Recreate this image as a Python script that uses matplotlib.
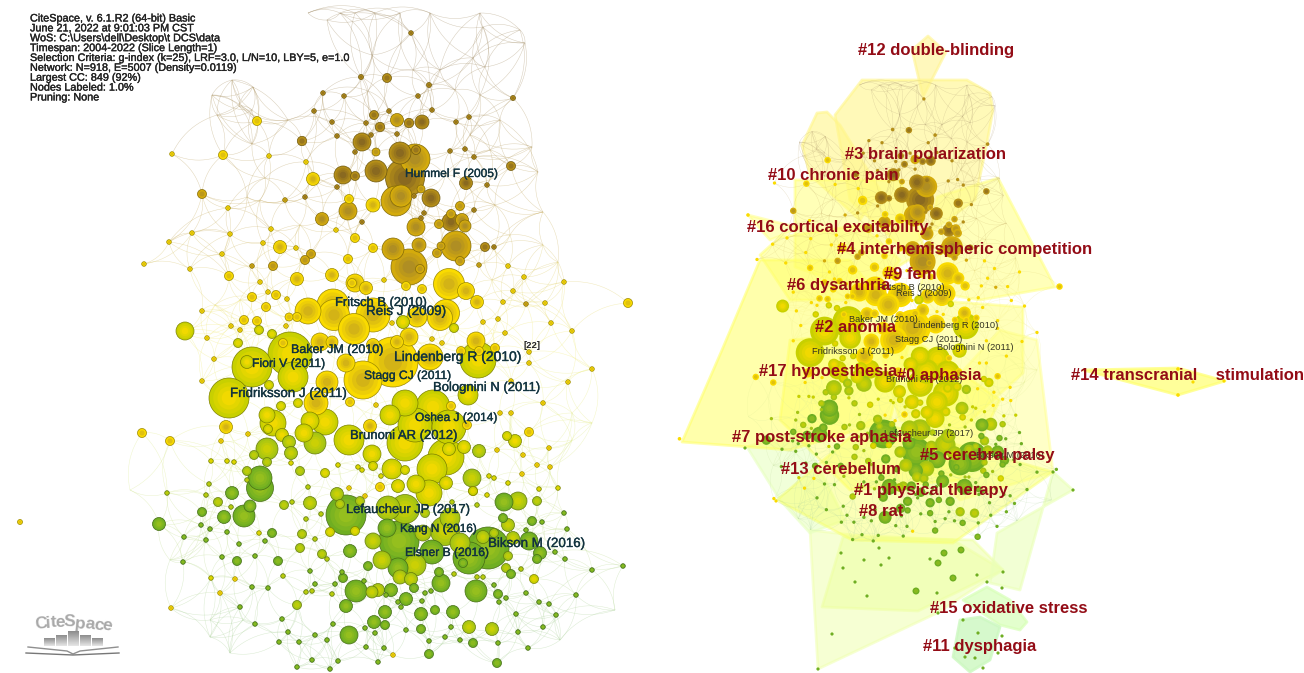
import numpy as np
import matplotlib
matplotlib.use("Agg")
import matplotlib.pyplot as plt
import matplotlib.patheffects as pe
from matplotlib.patches import Circle, Polygon
from matplotlib.collections import PatchCollection, LineCollection

plt.rcParams['font.family'] = ['Liberation Sans', 'DejaVu Sans']

# nodes of the co-citation network: (x, y, radius)
nodes_2005 = [(411,33,2.3),(361,77,2.5),(387,78,4.5),(429,85,2.5),(418,96,2.3),(323,93,2.3),(344,96,2.3),(513,98,2.5),
    (432,110,2.3),(314,111,2.3),(389,111,2.3),(374,115,4.5),(469,117,2.3),(332,122,2.3),(366,123,2.3),(380,127,4.7),
    (409,123,4.7),(422,122,7),(456,122,2.3),(337,136,2.3),(371,135,2.3),(397,134,2.3),(302,141,4.7),(362,142,9),
    (355,152,2.3),(450,151,2.3),(465,149,2.3),(474,157,2.3),(511,166,4.5),(400,153,11),(376,171,11),(343,175,9),
    (405,178,19.5),(466,183,6.5),(487,185,2.3),(431,198,9),(474,210,2.3),(424,213,2.3),(421,218,2.3),(362,222,2.3),
    (416,150,4.5),(355,176,4.5),(305,197,2.3),(414,196,2.3),(337,187,2.3),(451,222,9),(485,247,4.5),(494,247,2.3)]
nodes_2007 = [(397,120,6.5),(376,152,4),(415,159,15),(421,189,4),(396,201,15),(401,196,11),(460,206,4.5),(348,211,9),
    (322,219,6.5),(416,227,9),(439,224,4.5),(451,214,4.5),(462,220,6.5),(465,226,6),(393,249,11),(419,245,7),(456,246,15),
    (441,246,4),(437,253,4.5),(460,261,4.5),(479,265,2.3),(409,267,18),(420,269,4.5),(311,254,4.5),(305,260,4.5),(273,266,4.5),
    (252,266,2.3),(285,200,2.3),(202,194,4.5),(526,304,2.3)]
nodes_2010 = [(257,121,4.5),(223,155,4.5),(172,154,2.3),(269,156,2.3),(306,162,2.3),(313,179,6.5),(349,199,4.5),(373,205,7),
    (228,208,2.3),(271,229,2.3),(336,230,2.3),(192,233,2.3),(230,234,2.3),(169,242,2.3),(263,243,2.3),(280,247,6.5),(296,248,2.3),
    (355,238,4.5),(373,248,4.5),(222,254,2.3),(144,264,2.3),(190,269,2.3),(229,276,4.5),(348,259,4.5),(332,275,6.5),(297,279,6.5),
    (355,283,9),(352,283,4.5),(366,288,6.5),(384,280,2.3),(406,286,4.5),(422,289,4.5),(449,284,15.5),(466,291,8.5),(477,302,6.5),
    (508,266,2.3),(524,277,2.3),(564,282,2.3),(513,291,2.3),(503,302,2.3),(545,303,2.3),(628,303,4.5),(551,323,2.3),(572,331,2.3),
    (483,322,2.3),(498,319,2.3),(505,333,2.3),(529,352,2.3),(529,363,2.3),(511,381,2.3),(568,382,2.3),(592,369,2.3),(476,341,9),
    (495,348,4.5),(461,351,4.5),(479,351,4.5),(260,282,2.3),(268,292,2.3),(252,297,4.5),(276,295,4.5),(287,299,2.3),(266,307,4.5),
    (202,311,2.3),(244,320,4.5),(257,321,4.5),(289,317,4),(297,317,4.5),(231,326,2.3),(240,330,2.3),(286,326,2.3),(308,311,13),
    (333,305,16),(334,315,15.5),(354,329,15.5),(373,315,17),(446,313,13.5),(440,318,12.5),(417,317,10),(409,337,9),(432,339,2.3),
    (442,343,2.3),(397,342,6.5),(393,362,25),(430,357,13),(332,342,6),(320,342,9),(373,345,6.5),(346,363,9),(283,343,4.5),
    (327,382,11),(363,380,19),(392,323,2.3),(214,359,2.3),(316,403,12),(350,402,4.5),(376,405,2.3),(142,433,4.5),(370,426,6.5),
    (226,427,6.5),(170,441,4.5),(248,434,2.3),(221,441,2.3),(207,338,2.3),(202,381,2.3),(20,522,2.5),(500,413,2.3),(511,413,2.3),
    (543,403,2.3),(467,425,4.5),(451,406,4.5),(529,432,4.5),(497,450,2.3),(523,455,2.3),(549,448,2.3),(537,465,2.3),(550,467,2.3),
    (522,474,2.3),(349,488,2.3),(365,496,2.3),(380,487,4.5),(473,491,4.5),(235,579,2.3),(393,655,2.3),(171,608,2.3),(220,593,2.3)]
nodes_2012 = [(185,331,9),(272,334,4.5),(259,330,4.5),(238,343,4.5),(290,354,22),(293,377,15),(478,360,18),(403,322,6.5),(454,328,4.5),
    (252,367,20),(247,362,6.5),(269,385,4.5),(229,398,20),(298,403,4.5),(281,406,4.5),(405,403,13),(433,407,17),(468,395,10),(390,415,10),
    (267,415,8),(273,423,13),(268,429,4.5),(310,421,9),(325,422,13),(304,433,9),(282,435,6.5),(349,440,15),(372,454,9),(373,466,4.5),
    (405,443,18),(415,425,17),(449,427,17),(507,436,4.5),(515,441,6.5),(464,447,6.5),(449,449,6.5),(446,457,18),(432,469,15),(392,469,10),
    (405,470,4.5),(446,483,6.5),(416,484,9),(429,493,13),(398,486,6.5),(489,476,2.3),(494,478,2.3),(508,483,2.3),(539,489,2.3),(558,488,2.3),
    (487,495,2.3),(473,491,4.5),(338,465,2.3),(358,467,2.3),(362,470,2.3),(381,476,2.3),(291,463,2.3),(325,473,4.5),(227,461,2.3),(234,462,2.3),
    (211,461,2.3),(211,578,2.3),(259,533,2.3),(330,532,4.5),(355,531,4.5),(534,579,4.5)]
nodes_2014 = [(315,443,11),(289,442,6.5),(291,453,6.5),(267,449,11),(254,455,4.5),(267,462,4.5),(479,451,6.5),(472,478,9),(247,471,4.5),
    (300,471,4.5),(310,503,6.5),(337,494,6.5),(340,504,4.5),(360,501,4.5),(284,505,4.5),(292,502,2.3),(218,502,4.5),(247,480,2.3),(308,487,2.3),
    (167,493,2.3),(206,495,2.3),(209,484,2.3),(231,507,2.3),(388,508,12),(405,509,14.5),(425,513,4.5),(477,505,2.3),(452,502,2.3),(450,518,10),
    (518,501,9),(537,501,4.5),(373,541,8),(423,533,8),(445,531,14.5),(460,543,10),(382,560,9),(415,565,11),(508,525,6.5),(513,538,6.5),(483,537,6.5),
    (494,533,4.5),(508,556,4.5),(400,577,7),(411,579,6.5),(315,539,2.3),(306,519,2.3),(321,514,2.3),(302,534,4.5),(322,554,4.5),(327,559,2.3),
    (300,548,4.5),(506,568,4.5),(521,569,2.3),(483,577,2.3),(477,577,2.3),(454,574,2.3),(306,592,2.3),(312,591,2.3),(332,594,2.3),(283,576,2.3),
    (372,592,6),(378,590,6.5),(297,605,4.5),(492,629,6.5),(469,627,6.5)]
nodes_2016 = [(260,478,12),(260,488,13.5),(232,493,6.5),(250,506,6),(244,516,11),(202,512,4.5),(224,517,6.5),(159,524,6.5),(201,525,2.3),(210,529,2.3),
    (227,532,2.3),(272,533,4.5),(184,537,2.3),(206,540,2.3),(239,544,2.3),(265,541,2.3),(346,515,20),(504,502,9),(564,513,2.3),(542,522,2.3),(532,521,4.5),
    (503,518,4.5),(526,530,2.3),(567,529,2.3),(399,541,20),(387,528,9),(488,548,21),(529,541,9),(540,553,6.5),(537,559,4.5),(469,558,16),(463,563,4.5),
    (432,552,12),(398,568,10),(368,566,4.5),(439,572,4.5),(441,583,9),(350,551,6.5),(278,561,4.5),(237,561,4.5),(255,556,2.3),(222,557,2.3),(183,562,2.3),
    (310,571,2.3),(343,578,4.5),(342,572,2.3),(364,581,2.3),(335,584,2.3),(315,584,2.3),(252,587,2.3),(268,588,2.3),(356,591,11),(391,590,6.5),(386,595,2.3),
    (414,588,4.5),(406,599,6.5),(425,593,2.3),(431,591,2.3),(398,602,2.3),(401,607,2.3),(422,601,2.3),(476,591,11),(498,594,4.5),(494,585,2.3),(511,574,4.5),
    (506,598,2.3),(499,602,2.3),(526,593,2.3),(539,602,2.3),(549,604,2.3),(576,595,2.3),(592,570,2.3),(623,566,2.3),(565,559,2.3),(555,552,2.3),(516,614,2.3),
    (556,615,2.3),(543,627,2.3),(518,632,2.3),(453,612,6.5),(435,610,4.5),(421,614,6.5),(421,629,4.5),(451,627,2.3),(445,637,2.3),(460,640,2.3),(473,643,4.5),
    (498,643,2.3),(528,648,2.3),(429,654,4.5),(497,663,4.5),(406,630,2.3),(429,641,2.3),(385,612,6.5),(374,622,6.5),(385,625,4.5),(375,633,2.3),(365,628,2.3),
    (349,635,9),(346,606,6.5),(333,624,2.3),(315,635,2.3),(327,640,2.3),(299,642,2.3),(288,632,2.3),(279,642,2.3),(282,619,2.3),(255,624,2.3),(240,607,2.3),
    (384,648,2.3),(366,647,2.3),(312,660,2.3),(338,661,2.3),(378,662,2.3),(297,667,2.3),(330,669,2.3)]

# nodes that only show on the right picture, they are below the crop on the left
right_green = [(818,669,1.6),(832,634,1.6),(938,613,1.6),(963,620,1.6),(978,633,1.6),(1002,636,1.6),(975,658,1.6),(965,657,1.6),(998,653,1.6),
    (983,668,1.6),(955,648,1.6),(1073,490,1.6),(1053,472,1.6),(745,448,1.6),(916,591,3.5),(953,578,3.5),(867,596,1.6),(855,582,1.6),(843,568,1.6),
    (937,593,1.6),(977,575,1.6),(1003,572,1.6),(1002,588,1.6),(987,582,1.6),(938,563,3.5),(944,553,3.5),(961,550,3.5),(864,560,1.6),(881,565,1.6),
    (889,558,1.6),(841,553,1.6),(879,548,1.6),(930,559,1.6)]
right_yellow = [(1178,369,1.8),(1193,382,1.6),(1224,381,1.6),(1178,395,1.8),(776,501,1.6),(748,215,1.8)]

# small joints of the web without a visible circle
web_joints = [(232,80),(253,87),(212,95),(239,106),(217,115),(288,120),(252,110),(473,58),(483,27),(520,30),(525,43),(485,67),(372,55),(368,91),(413,70),
    (440,70),(400,13),(430,13),(355,13),(375,13),(308,13),(340,13),(327,20),(480,13),(210,620),(230,653),(243,620),(210,637),(538,172),(532,147),(543,212),
    (558,262),(543,245),(492,280),(252,144),(247,197),(265,178),(572,413),(572,440),(592,423),(650,495),(130,490),(615,610),(480,95),(500,120),(455,90),
    (470,135),(490,150),(445,175),(495,205),(510,235),(260,200),(300,225),(240,300),(215,305),(170,560),(560,640)]

cluster_names = ['#12 double-blinding','#3 brain polarization','#10 chronic pain','#16 cortical excitability',
    '#4 interhemispheric competition','#9 fem','#6 dysarthria','#2 anomia','#17 hypoesthesia','#0 aphasia',
    '#14 transcranial    stimulation','#7 post-stroke aphasia','#5 cerebral palsy','#13 cerebellum',
    '#1 physical therapy','#8 rat','#15 oxidative stress','#11 dysphagia']
cluster_x = [858,845,768,747,837,884,787,815,759,897,1071,732,920,781,854,859,930,923]
cluster_y = [50,154,175,227,249,274,285,327,371,375,375,437,455,469,490,511,608,646]

ref_names = ['Hummel F (2005)','Fritsch B (2010)','Reis J (2009)','Baker JM (2010)','Fiori V (2011)','Lindenberg R (2010)',
    'Stagg CJ (2011)','Bolognini N (2011)','Fridriksson J (2011)','Oshea J (2014)','Brunoni AR (2012)',
    'Lefaucheur JP (2017)','Kang N (2016)','Bikson M (2016)','Elsner B (2016)']
ref_x = [405,335,366,291,252,394,364,433,230,415,350,346,400,488,405]
ref_y = [174,303,312,350,364,357,376,388,394,418,436,510,529,544,553]
ref_size = [8.6,9.3,9.7,9,8.8,10,8.7,9.4,9.6,8.6,9.4,9.3,8.5,9.6,8.7]

small_names = ['Fritsch B (2010)','Reis J (2009)','Baker JM (2010)','Lindenberg R (2010)','Stagg CJ (2011)','Bolognini N (2011)',
    'Fridriksson J (2011)','Brunoni AR (2012)','Lefaucheur JP (2017)','Bikson M (2016)']
small_x = [878,896,849,913,895,937,812,886,884,976]
small_y = [287,294,320,325,339,347,351,380,433,455]

header = ['CiteSpace, v. 6.1.R2 (64-bit) Basic','June 21, 2022 at 9:01:03 PM CST','WoS: C:\\Users\\dell\\Desktop\\t DCS\\data',
    'Timespan: 2004-2022 (Slice Length=1)','Selection Criteria: g-index (k=25), LRF=3.0, L/N=10, LBY=5, e=1.0',
    'Network: N=918, E=5007 (Density=0.0119)','Largest CC: 849 (92%)','Nodes Labeled: 1.0%','Pruning: None']

# cluster hulls on the right picture: outline, colour, alpha
hulls = [
    ([(810,530),(818,669),(937,613),(1003,570),(953,540),(852,535)], '#f0ffb0', .55),
    ([(822,607),(918,611),(1003,570),(973,540),(843,537)], '#eeffa0', .5),
    ([(997,533),(1073,490),(1053,472),(1020,590),(990,583)], '#eaffb8', .6),
    ([(747,447),(800,430),(845,520),(810,533),(780,500)], '#e8ffc0', .6),
    ([(1037,340),(1053,472),(960,500),(900,440),(1000,330)], '#ffff90', .5),
    ([(777,500),(870,420),(1053,472),(953,543),(852,540)], '#f8ff70', .5),
    ([(912,50),(928,36),(946,52),(923,97)], '#fff490', .6),
    ([(862,80),(967,80),(990,93),(993,110),(987,143),(975,200),(905,250),(850,200),(835,115)], '#fff68a', .6),
    ([(817,113),(827,112),(840,125),(880,190),(860,220),(810,175),(802,145)], '#fff68a', .6),
    ([(795,180),(900,180),(925,250),(860,290),(795,267)], '#ffff70', .5),
    ([(937,197),(998,178),(1055,287),(980,300),(920,290)], '#ffff80', .55),
    ([(780,237),(860,225),(900,260),(870,300),(790,300),(760,255)], '#ffff70', .5),
    ([(748,215),(800,228),(770,240)], '#ffff80', .5),
    ([(760,260),(850,260),(910,340),(890,420),(790,450),(682,442),(722,350)], '#ffff66', .55),
    ([(930,300),(1023,307),(1023,373),(960,430),(900,420),(880,350)], '#ffff80', .55),
    ([(790,340),(900,330),(1000,400),(960,480),(850,490),(780,420)], '#ffff60', .45),
    ([(1083,370),(1178,368),(1225,381),(1178,395)], '#ffff70', .7),
    ([(963,600),(987,587),(1010,600),(1027,622),(1020,630),(1000,625)], '#d8ffb8', .7),
    ([(960,620),(980,617),(1000,627),(990,660),(970,672),(953,657)], '#ccf8c0', .8),
]

# colours of a cohort: rim, centre
cohort_colors = {2005: ('#b58f18', '#7a5c22'), 2007: ('#d4ab0c', '#a2842a'), 2010: ('#fadb00', '#c6a61e'),
                 2012: ('#c8d000', '#ffdc00'), 2014: ('#a4c414', '#d8d400'), 2016: ('#6fae22', '#a2c41c')}
cohorts = {2005: nodes_2005, 2007: nodes_2007, 2010: nodes_2010, 2012: nodes_2012, 2014: nodes_2014, 2016: nodes_2016}

# pixel box of the left picture onto the right one
def to_right(x, y):
    return 667 + 0.625 * np.asarray(x, float), 76 + 0.695 * np.asarray(y, float)

def link_color(y):
    ys = [60, 220, 330, 450, 620]
    r = np.interp(y, ys, [.66, .80, .96, .88, .70])
    g = np.interp(y, ys, [.58, .70, .93, .93, .84])
    b = np.interp(y, ys, [.44, .42, .50, .58, .64])
    return r, g, b

def web_segments(nb=8):
    # web is tied between neighbouring nodes, the arcs are too many to read one by one
    pts = [p[:2] for c in cohorts.values() for p in c] + web_joints
    pts = np.array(pts, float)
    seen = set()
    segs, cols = [], []
    t = np.linspace(0, 1, 14)[:, None]
    for i, p in enumerate(pts):
        d = np.hypot(*(pts - p).T)
        for j in np.argsort(d)[1:nb + 1]:
            key = (min(i, int(j)), max(i, int(j)))
            if key in seen or d[j] > 70:
                continue
            seen.add(key)
            q = pts[j]
            sign = 1 if (i + int(j)) % 2 else -1
            mid = (p + q) / 2 + sign * 0.22 * np.array([q[1] - p[1], p[0] - q[0]])
            segs.append((1 - t)**2 * p + 2 * t * (1 - t) * mid + t**2 * q)
            cols.append(link_color(mid[1]))
    return segs, cols

def node_patches(items, outline=True):
    patches = []
    for x, y, r, year in sorted(items, key=lambda n: -n[2]):
        rim, core = cohort_colors[year]
        rgb_rim, rgb_core = np.array(matplotlib.colors.to_rgb(rim)), np.array(matplotlib.colors.to_rgb(core))
        if outline:
            patches.append(Circle((x, y), r, fc=rgb_rim, ec=rgb_rim * .62, lw=.5))
        else:
            patches.append(Circle((x, y), r, fc=rgb_rim, ec='none', lw=0))
        if r >= 2:
            n = 4 if r > 5 else 2
            for k in range(1, n):
                f = k / n
                patches.append(Circle((x, y), r * (1 - f * .85), fc=rgb_rim + (rgb_core - rgb_rim) * f, ec='none', lw=0))
    return patches

fig = plt.figure(figsize=(13.04, 6.73), dpi=100)
ax = fig.add_axes([0, 0, 1, 1])

segs, cols = web_segments()
ax.add_collection(LineCollection(segs, colors=cols, linewidths=.35, alpha=.5, zorder=1))

left_items = [(x, y, r, yr) for yr, c in cohorts.items() for x, y, r in c]
ax.add_collection(PatchCollection(node_patches(left_items), match_original=True, zorder=3))

# right picture
for outline, color, alpha in hulls:
    ax.add_patch(Polygon(outline, closed=True, fc=color, ec=color, alpha=alpha, lw=2, joinstyle='round', zorder=2))

right_segs = []
for s in segs:
    sx, sy = to_right(s[:, 0], s[:, 1])
    right_segs.append(np.c_[sx, sy])
ax.add_collection(LineCollection(right_segs, colors=cols, linewidths=.25, alpha=.4, zorder=2.5))

right_items = []
for x, y, r, yr in left_items:
    rx, ry = to_right(x, y)
    right_items.append((float(rx), float(ry), r * .72, yr))
right_items += [(x, y, r, 2016) for x, y, r in right_green] + [(x, y, r, 2010) for x, y, r in right_yellow]
ax.add_collection(PatchCollection(node_patches(right_items, outline=False), match_original=True, zorder=3))

# text, a thin stroke gives the heavy look of the blurred screenshot
stroke = [pe.withStroke(linewidth=.25, foreground='#222222')]
for i, line in enumerate(header):
    ax.text(30, 18.5 + i * 9.87, line, fontsize=7.8, color='#222222', va='center', zorder=6, path_effects=stroke)

for name, x, y, size in zip(ref_names, ref_x, ref_y, ref_size):
    ax.text(x, y, name, fontsize=size, color='#12333f', va='center', zorder=6,
            path_effects=[pe.withStroke(linewidth=.25, foreground='#12333f')])
ax.text(523, 345, '[22]', fontsize=6.8, color='#222222', fontweight='bold', va='center', zorder=6)

for name, x, y in zip(small_names, small_x, small_y):
    ax.text(x, y, name, fontsize=6.7, color='#333322', va='center', zorder=5)
for name, x, y in zip(cluster_names, cluster_x, cluster_y):
    ax.text(x, y + .5, name, fontsize=11.95, color='#930c16', fontweight='bold', va='center', zorder=7)

# CiteSpace logo
logo_letters = list('CiteSpace')
logo_x = [41, 48, 53, 60, 69, 80, 90, 99, 107]
logo_y = [624, 623, 622, 622, 622, 624, 624, 625, 626]
logo_rot = [6, 4, 3, 1, -2, -6, -8, -10, -12]
for ch, x, y, rot in zip(logo_letters, logo_x, logo_y, logo_rot):
    ax.text(x, y, ch, fontsize=12.5, fontweight='bold', color='#a9a9a9', ha='center', va='center', rotation=rot, zorder=6)
bar_left = [44, 56, 68, 80, 92]
bar_top = [638, 635, 631, 635, 638]
grad = np.linspace(.55, .9, 32)[:, None]
for x, top in zip(bar_left, bar_top):
    ax.imshow(grad, extent=(x, x + 11, 646, top), cmap='gray', vmin=0, vmax=1, aspect='auto', zorder=6)
ax.plot([28, 67, 73, 80, 118], [647, 651, 654, 651, 647], color='#8f8f8f', lw=1.0, zorder=6)
ax.plot([26, 73, 119], [653, 655, 653], color='#777777', lw=1.0, zorder=6)

ax.set_xlim(0, 1304)
ax.set_ylim(673, 0)
ax.axis('off')
fig.savefig('out.png', dpi=100)
